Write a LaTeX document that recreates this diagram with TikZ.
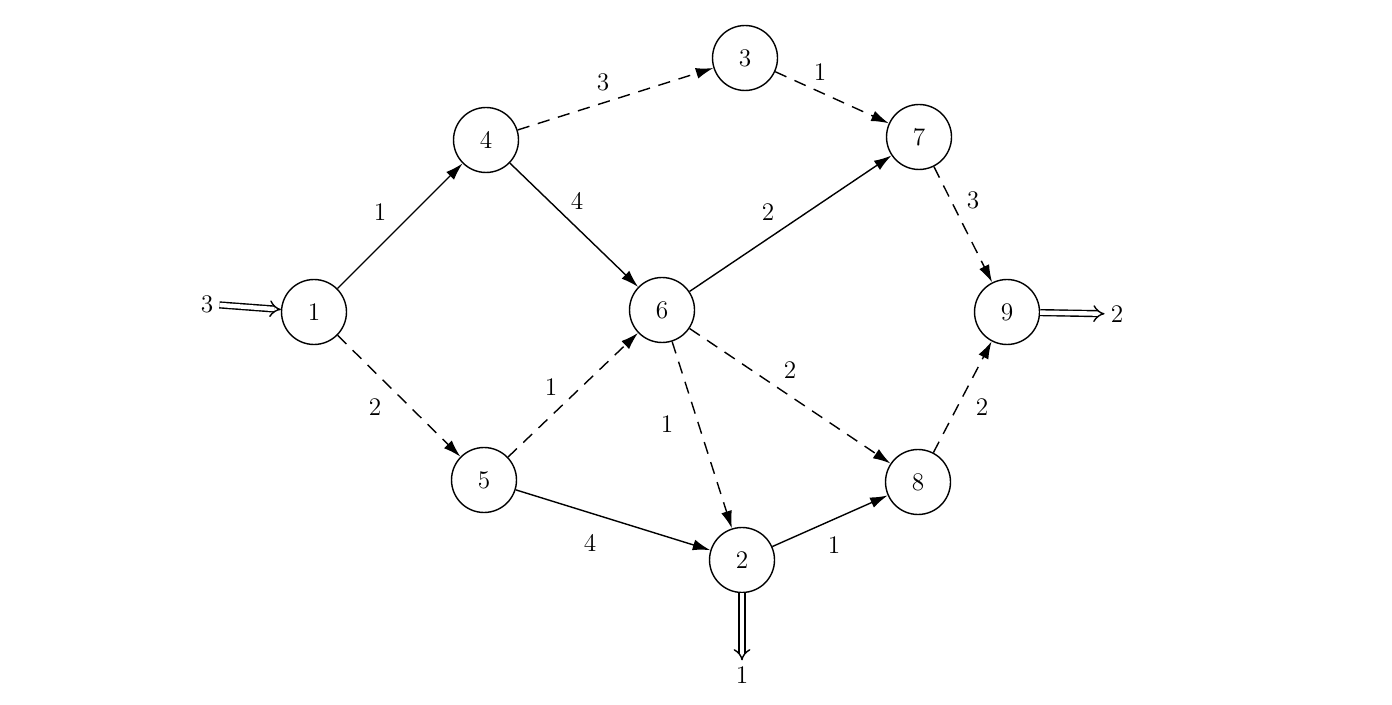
\documentclass[tikz,border=0pt]{standalone}
\usetikzlibrary{arrows.meta}
\begin{document}
\begin{tikzpicture}[x=0.02cm,y=-0.02cm,
  vtx/.style={draw,circle,minimum size=1.3cm,inner sep=0pt,thick,font=\Large},
  arc/.style={thick,-{Latex[length=3.5mm,width=2.2mm]}},
  dsh/.style={arc,dashed,dash pattern=on 7pt off 5pt},
  lab/.style={font=\Large},
  dbl/.style={double,thick,double distance=2.5pt,-{Implies}}]
\useasboundingbox (0,0) rectangle (1392,705);
\node[vtx] (n1) at (314,312) {1};
\node[vtx] (n4) at (486,140) {4};
\node[vtx] (n3) at (745,58) {3};
\node[vtx] (n7) at (919,137) {7};
\node[vtx] (n6) at (662,310) {6};
\node[vtx] (n9) at (1007,312) {9};
\node[vtx] (n5) at (484,480) {5};
\node[vtx] (n2) at (742,560) {2};
\node[vtx] (n8) at (918,482) {8};
\node[lab] (in1) at (207,304) {3};
\node[lab] (out9) at (1117,314) {2};
\node[lab] (out2) at (742,675) {1};
\draw[arc] (n1) -- (n4);
\draw[dsh] (n1) -- (n5);
\draw[dsh] (n4) -- (n3);
\draw[arc] (n4) -- (n6);
\draw[dsh] (n3) -- (n7);
\draw[arc] (n6) -- (n7);
\draw[dsh] (n7) -- (n9);
\draw[dsh] (n5) -- (n6);
\draw[dsh] (n6) -- (n2);
\draw[dsh] (n6) -- (n8);
\draw[arc] (n5) -- (n2);
\draw[arc] (n2) -- (n8);
\draw[dsh] (n8) -- (n9);
\draw[dbl] (in1) -- (n1);
\draw[dbl] (n9) -- (out9);
\draw[dbl] (n2) -- (out2.north);
\node[lab] at (380,212) {1};
\node[lab] at (375,407) {2};
\node[lab] at (603,82) {3};
\node[lab] at (577,201) {4};
\node[lab] at (820,72) {1};
\node[lab] at (768,212) {2};
\node[lab] at (973,200) {3};
\node[lab] at (551,387) {1};
\node[lab] at (667,424) {1};
\node[lab] at (790,370) {2};
\node[lab] at (590,543) {4};
\node[lab] at (834,545) {1};
\node[lab] at (982,407) {2};
\end{tikzpicture}
\end{document}
